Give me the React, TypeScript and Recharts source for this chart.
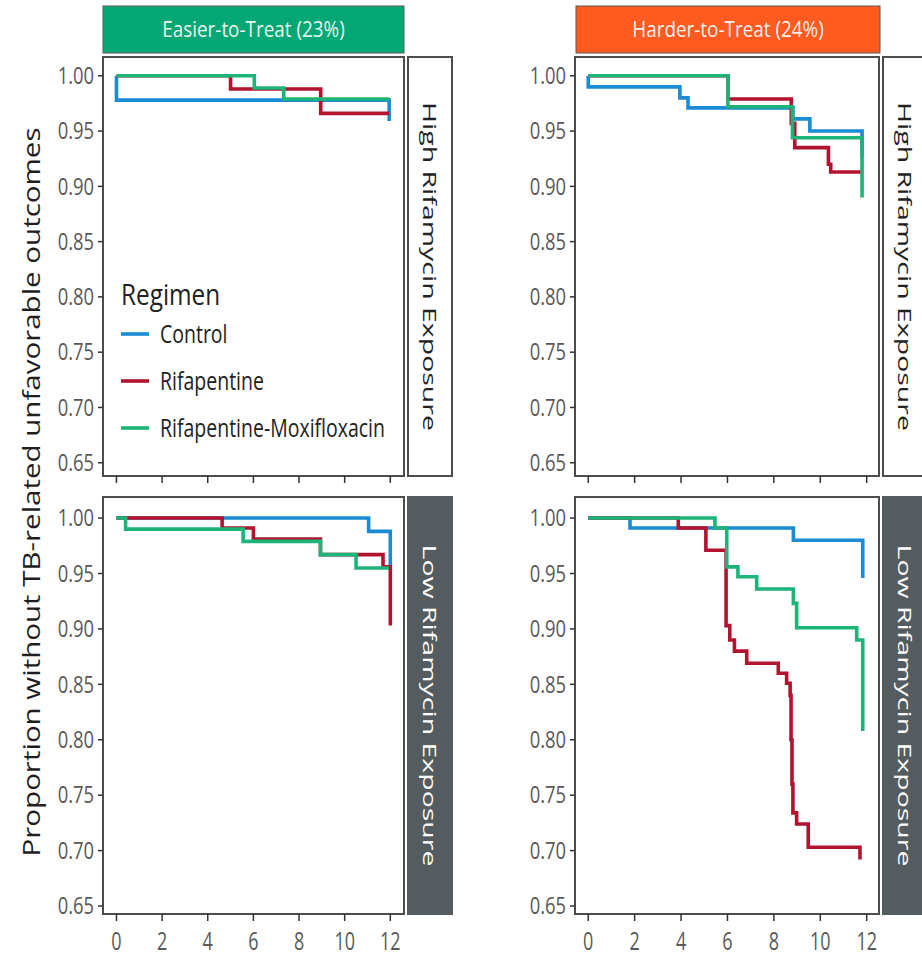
import React from 'react';
import { LineChart, Line, XAxis, YAxis, ReferenceArea, Legend } from 'recharts';

type Pt = [number, number];

const regimens = ['Control', 'Rifapentine', 'Rifapentine-Moxifloxacin'];
const regimenColors = ['#1b8bd3', '#b3132f', '#1db47a'];
const monthTicks = [0, 2, 4, 6, 8, 10, 12];
const yTicks = [0.65, 0.7, 0.75, 0.8, 0.85, 0.9, 0.95, 1.0];
const colLabels = ['Easier-to-Treat (23%)', 'Harder-to-Treat (24%)'];
const colFills = ['#05a874', '#ff5a1f'];
const rowLabels = ['High Rifamycin Exposure', 'Low Rifamycin Exposure'];
const yLabel = 'Proportion without TB-related unfavorable outcomes';

// [month, proportion] — KM steps
const easyHighControl: Pt[] = [[0, 1.0], [0, 0.978], [11.95, 0.959]];
const easyHighRif: Pt[] = [[0, 1.0], [5.0, 0.988], [8.95, 0.966], [11.95, 0.966]];
const easyHighRifMox: Pt[] = [[0, 1.0], [6.04, 0.989], [7.33, 0.979], [11.95, 0.979]];

const hardHighControl: Pt[] = [[0, 1.0], [0, 0.99], [3.95, 0.98], [4.3, 0.971], [8.82, 0.961], [9.55, 0.95], [11.8, 0.926]];
const hardHighRif: Pt[] = [[0, 1.0], [6.02, 0.979], [8.75, 0.957], [8.9, 0.935], [10.35, 0.92], [10.45, 0.913], [11.8, 0.913]];
const hardHighRifMox: Pt[] = [[0, 1.0], [6.02, 0.972], [8.8, 0.944], [11.8, 0.89]];

const easyLowControl: Pt[] = [[0, 1.0], [11.05, 0.988], [12.0, 0.956]];
const easyLowRif: Pt[] = [[0, 1.0], [4.63, 0.991], [6.0, 0.981], [8.94, 0.967], [11.68, 0.956], [12.0, 0.903]];
const easyLowRifMox: Pt[] = [[0, 1.0], [0.4, 0.99], [5.55, 0.979], [8.94, 0.967], [10.5, 0.955], [11.95, 0.955]];

const hardLowControl: Pt[] = [[0, 1.0], [1.8, 0.991], [8.84, 0.98], [11.83, 0.946]];
const hardLowRif: Pt[] = [
  [0, 1.0], [3.88, 0.991], [5.07, 0.971], [5.94, 0.903], [6.1, 0.89], [6.3, 0.88], [6.83, 0.869],
  [8.19, 0.86], [8.55, 0.851], [8.7, 0.84], [8.74, 0.8], [8.78, 0.76], [8.82, 0.734], [8.98, 0.724],
  [9.48, 0.703], [11.71, 0.692],
];
const hardLowRifMox: Pt[] = [
  [0, 1.0], [5.46, 0.991], [5.97, 0.956], [6.45, 0.947], [7.26, 0.936], [8.84, 0.923], [8.98, 0.901],
  [11.57, 0.89], [11.83, 0.808],
];

const FONT = 'Open Sans';
const toRows = (pts: Pt[]) => pts.map(([t, s]) => ({ t, s }));

const YTick = ({ x, y, payload }: any) => (
  <g transform={`translate(${x},${y}) scale(0.8,1)`}>
    <text textAnchor="end" dy="0.36em" fontSize={23} fill="#595959" fontFamily={FONT}>
      {Number(payload.value).toFixed(2)}
    </text>
  </g>
);

const XTick = ({ x, y, payload }: any) => (
  <g transform={`translate(${x},${y}) scale(0.72,1)`}>
    <text textAnchor="middle" dy={27} fontSize={25} fill="#595959" fontFamily={FONT}>
      {payload.value}
    </text>
  </g>
);

const NoTick = () => <g />;

const LegendBox = ({ payload }: any) => {
  const items = payload && payload.length ? payload.map((p: any) => ({ name: p.value, color: p.color })) :
    regimens.map((n, i) => ({ name: n, color: regimenColors[i] }));
  return (
    <svg width={300} height={170}>
      <g transform="translate(6,30) scale(0.84,1)">
        <text fontSize={29} fill="#222" fontFamily={FONT}>Regimen</text>
      </g>
      {items.map((it: any, i: number) => {
        const y = 59 + i * 47;
        return (
          <g key={it.name}>
            <line x1={6} x2={34} y1={y} y2={y} stroke={it.color} strokeWidth={3.6} />
            <g transform={`translate(45,${y + 9}) scale(0.78,1)`}>
              <text fontSize={25} fill="#222" fontFamily={FONT}>{it.name}</text>
            </g>
          </g>
        );
      })}
    </svg>
  );
};

type Box = { x: number; y: number; w: number; h: number };

const Panel = ({ box, xDomain, yDomain, series, xLabels, legend }: {
  box: Box; xDomain: [number, number]; yDomain: [number, number]; series: Pt[][]; xLabels: boolean; legend?: boolean;
}) => {
  const YW = 80;
  const M = 2;
  const XH = xLabels ? 44 : 12;
  const left = box.x - YW;
  const top = box.y - M;
  return (
    <div style={{ position: 'absolute', left, top }}>
      <LineChart width={YW + box.w + M} height={M + box.h + XH} margin={{ top: M, right: M, bottom: 0, left: 0 }}>
        <XAxis
          type="number" dataKey="t" domain={xDomain} ticks={monthTicks} allowDataOverflow interval={0}
          height={XH} axisLine={false} tickSize={7} tickLine={{ stroke: '#333', strokeWidth: 1.5 }}
          tick={xLabels ? XTick : NoTick}
        />
        <YAxis
          type="number" dataKey="s" domain={yDomain} ticks={yTicks} allowDataOverflow interval={0}
          width={YW} axisLine={false} tickSize={5} tickMargin={4} tickLine={{ stroke: '#333', strokeWidth: 1.5 }}
          tick={YTick}
        />
        <ReferenceArea
          x1={xDomain[0]} x2={xDomain[1]} y1={yDomain[0]} y2={yDomain[1]}
          fill="none" fillOpacity={0} stroke="#4d4d4d" strokeWidth={2} ifOverflow="visible"
        />
        {series.map((pts, i) => (
          <Line
            key={regimens[i]} data={toRows(pts)} dataKey="s" name={regimens[i]} type="stepAfter"
            stroke={regimenColors[i]} strokeWidth={3.6} dot={false} activeDot={false} isAnimationActive={false}
          />
        ))}
        {legend && (
          <Legend
            layout="vertical" align="center" verticalAlign="middle"
            wrapperStyle={{ left: 115 - left, top: 275 - top, width: 300, height: 170 }}
            content={(p: any) => <LegendBox payload={p.payload} />}
          />
        )}
      </LineChart>
    </div>
  );
};

const leftX: [number, number] = [-0.59, 12.6];
const rightX: [number, number] = [-0.57, 12.53];
const topY: [number, number] = [0.638, 1.017];
const botY: [number, number] = [0.6428, 1.019];

const boxes = {
  tl: { x: 103, y: 57, w: 301, h: 419 },
  tr: { x: 575, y: 57, w: 304, h: 419 },
  bl: { x: 103, y: 497, w: 301, h: 417 },
  br: { x: 575, y: 497, w: 304, h: 417 },
};

export default function App() {
  const colStrips = [
    { x: 103, w: 301 },
    { x: 576, w: 304 },
  ];
  const rowStrips = [
    { y: 57, h: 419 },
    { y: 497, h: 417 },
  ];
  const stripXs = [408, 883];
  return (
    <div style={{ position: 'absolute', left: 0, top: 0, width: 922, height: 957, overflow: 'hidden', background: '#fff' }}>
      <svg width={922} height={957} style={{ position: 'absolute', left: 0, top: 0 }}>
        {colStrips.map((s, i) => (
          <g key={colLabels[i]}>
            <rect x={s.x} y={6} width={s.w} height={47} fill={colFills[i]} stroke="#5a5a5a" strokeWidth={1} />
            <g transform={`translate(${s.x + s.w / 2},${29.5}) scale(0.9,1)`}>
              <text textAnchor="middle" dy="0.36em" fontSize={21} fill="#fff" fillOpacity={0.93} fontFamily={FONT}>
                {colLabels[i]}
              </text>
            </g>
          </g>
        ))}
        {rowStrips.map((r, ri) =>
          stripXs.map((sx) => (
            <g key={`${ri}-${sx}`}>
              <rect
                x={sx} y={r.y} width={44} height={r.h}
                fill={ri === 0 ? '#fff' : '#545c60'} stroke={ri === 0 ? '#4d4d4d' : '#545c60'} strokeWidth={2}
              />
              <g transform={`translate(${sx + 22},${r.y + r.h / 2}) rotate(90) scale(1,0.66)`}>
                <text textAnchor="middle" dy="0.36em" fontSize={28.5} fill={ri === 0 ? '#222' : '#fff'} fontFamily={FONT}>
                  {rowLabels[ri]}
                </text>
              </g>
            </g>
          ))
        )}
        <g transform="translate(31,492) rotate(-90) scale(1,0.8)">
          <text textAnchor="middle" dy="0.36em" fontSize={29.5} fill="#1e1e1e" fontFamily={FONT}>
            {yLabel}
          </text>
        </g>
      </svg>
      <Panel box={boxes.tl} xDomain={leftX} yDomain={topY} series={[easyHighControl, easyHighRif, easyHighRifMox]} xLabels={false} legend />
      <Panel box={boxes.tr} xDomain={rightX} yDomain={topY} series={[hardHighControl, hardHighRif, hardHighRifMox]} xLabels={false} />
      <Panel box={boxes.bl} xDomain={leftX} yDomain={botY} series={[easyLowControl, easyLowRif, easyLowRifMox]} xLabels />
      <Panel box={boxes.br} xDomain={rightX} yDomain={botY} series={[hardLowControl, hardLowRif, hardLowRifMox]} xLabels />
    </div>
  );
}
